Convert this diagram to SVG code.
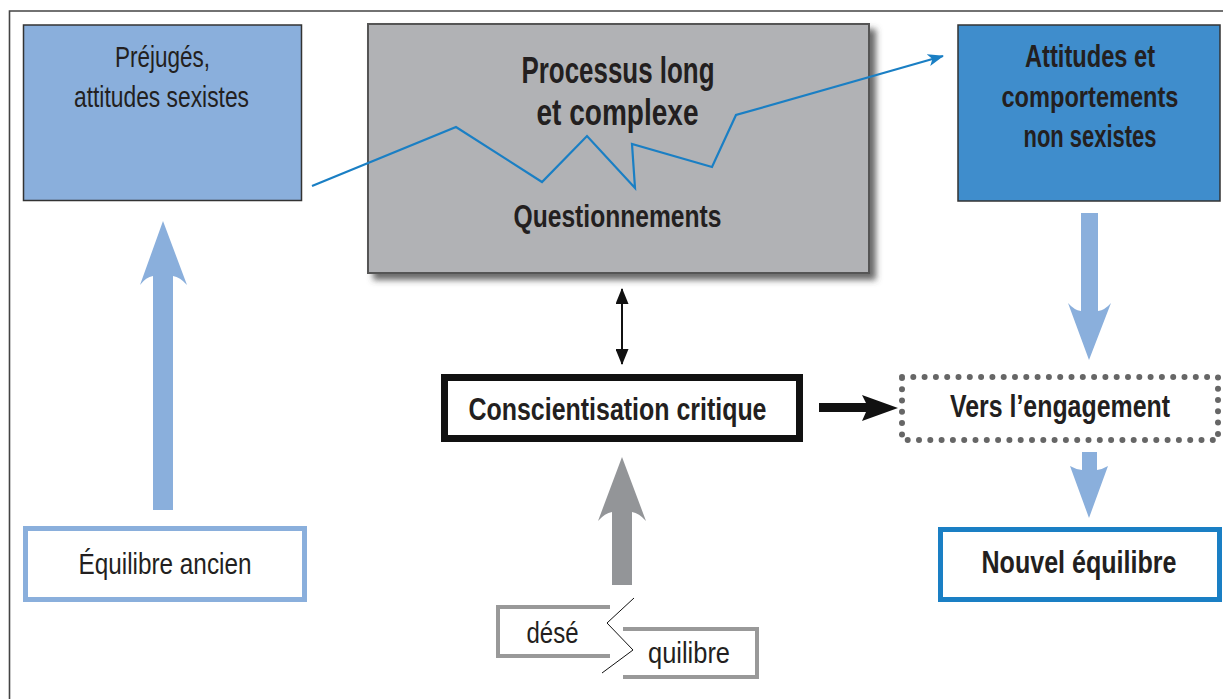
<svg xmlns="http://www.w3.org/2000/svg" width="1223" height="699" viewBox="0 0 1223 699">
<defs>
<style>
.t{font-family:"Liberation Sans Narrow","Liberation Sans",Arial,sans-serif;fill:#231f20;text-anchor:middle}
.b{font-weight:bold}
</style>
<filter id="sh" x="-10%" y="-10%" width="130%" height="130%">
<feDropShadow dx="6" dy="6" stdDeviation="3" flood-color="#444" flood-opacity="0.8"/>
</filter>
<marker id="ab" viewBox="0 0 16 12" refX="15" refY="6" markerWidth="16" markerHeight="12" markerUnits="userSpaceOnUse" orient="auto">
<path d="M0,0 L16,6 L0,12 L4,6 Z" fill="#1a7fc4"/>
</marker>
<marker id="ak" viewBox="0 0 16 13" refX="15" refY="6.5" markerWidth="16" markerHeight="13" markerUnits="userSpaceOnUse" orient="auto-start-reverse">
<path d="M0,0 L16,6.5 L0,13 Z" fill="#111"/>
</marker>
</defs>
<rect width="1223" height="699" fill="#fff"/>
<path d="M9.5,699 V11 H1223" fill="none" stroke="#444" stroke-width="1.6"/>

<g id="node-prejuges">
<rect x="23.5" y="25" width="278" height="175.5" fill="#8aafdc" stroke="#333" stroke-width="1.5"/>
<text class="t" x="162.5" y="67" font-size="29" textLength="95" lengthAdjust="spacingAndGlyphs">Préjugés,</text>
<text class="t" x="161.5" y="107" font-size="29" textLength="175" lengthAdjust="spacingAndGlyphs">attitudes sexistes</text>
</g>

<g id="node-processus">
<rect x="368" y="24" width="501" height="249" fill="#b1b2b5" stroke="#555" stroke-width="2" filter="url(#sh)"/>
<text class="t b" x="618" y="83" font-size="36" textLength="193" lengthAdjust="spacingAndGlyphs">Processus long</text>
<text class="t b" x="617.5" y="125" font-size="36" textLength="162" lengthAdjust="spacingAndGlyphs">et complexe</text>
<text class="t b" x="617.5" y="227" font-size="31" textLength="208" lengthAdjust="spacingAndGlyphs">Questionnements</text>
</g>

<g id="node-attitudes">
<rect x="958" y="25" width="262" height="176" fill="#3f8dcc" stroke="#333" stroke-width="1.5"/>
<text class="t b" x="1090" y="67" font-size="31" textLength="130" lengthAdjust="spacingAndGlyphs">Attitudes et</text>
<text class="t b" x="1090" y="107" font-size="29" textLength="177" lengthAdjust="spacingAndGlyphs">comportements</text>
<text class="t b" x="1090" y="147" font-size="31" textLength="133" lengthAdjust="spacingAndGlyphs">non sexistes</text>
</g>

<g id="node-conscientisation">
<rect x="444.5" y="377.5" width="355" height="61" fill="#fff" stroke="#111" stroke-width="7"/>
<text class="t b" x="617.5" y="420" font-size="31" textLength="298" lengthAdjust="spacingAndGlyphs">Conscientisation critique</text>
</g>

<g id="node-engagement">
<rect x="902" y="377" width="316" height="63" fill="none" stroke="#666" stroke-width="6" stroke-linecap="round" stroke-dasharray="0 11.3"/>
<text class="t b" x="1060" y="417" font-size="31" textLength="220" lengthAdjust="spacingAndGlyphs">Vers l’engagement</text>
</g>

<g id="node-nouvel">
<rect x="940.5" y="529.5" width="279" height="70" fill="#fff" stroke="#1a7fc4" stroke-width="5"/>
<text class="t b" x="1079" y="573" font-size="31" textLength="195" lengthAdjust="spacingAndGlyphs">Nouvel équilibre</text>
</g>

<g id="node-ancien">
<rect x="25.5" y="528.5" width="279" height="71" fill="#fff" stroke="#8aafdc" stroke-width="5"/>
<text class="t" x="165" y="574" font-size="30" textLength="173" lengthAdjust="spacingAndGlyphs">Équilibre ancien</text>
</g>

<g id="node-desequilibre">
<path d="M610,607 H498 V656 H610" fill="none" stroke="#999" stroke-width="4"/>
<path d="M623,629 H757 V677 H623" fill="none" stroke="#999" stroke-width="4"/>
<path d="M634,598 L607,623 L633,650 L602,673" fill="none" stroke="#111" stroke-width="1"/>
<text class="t" x="552.5" y="643" font-size="29" textLength="52" lengthAdjust="spacingAndGlyphs">désé</text>
<text class="t" x="689" y="663" font-size="29" textLength="82" lengthAdjust="spacingAndGlyphs">quilibre</text>
</g>

<g id="connectors">
<polyline points="312,186 456,127 542,182 587,136 635,188 632,144 712,167 736,115 943,56" fill="none" stroke="#1a7fc4" stroke-width="2.2" marker-end="url(#ab)"/>
<line x1="622" y1="289" x2="622" y2="364" stroke="#111" stroke-width="2" marker-start="url(#ak)" marker-end="url(#ak)"/>
<path d="M153,510 V276 Q146,277 140,285 L163,221 L187,285 Q180,277 173,276 V510 Z" fill="#8aafdc"/>
<path d="M1081,213 V311 Q1074,310 1068,303 L1089,360 L1111,303 Q1105,310 1098,311 V213 Z" fill="#8aafdc"/>
<path d="M1082,452 V470 Q1075,469 1070,466 L1089,518 L1108,466 Q1103,469 1097,470 V452 Z" fill="#8aafdc"/>
<path d="M612,585 V512 Q605,513 598,521 L622,457 L646,521 Q639,513 632,512 V585 Z" fill="#939598"/>
<path d="M819,403 H866 L862,395 L898,408 L862,421 L866,412 H819 Z" fill="#111"/>
</g>
</svg>
